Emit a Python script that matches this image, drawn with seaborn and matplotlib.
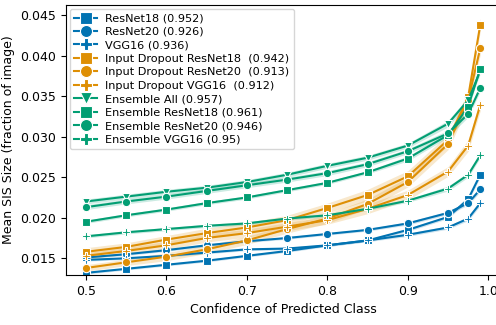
import numpy as np
import pandas as pd
import matplotlib
matplotlib.use("Agg")
import matplotlib.pyplot as plt
import seaborn as sns

# Confidence bins on the x axis
confidence = [0.5, 0.55, 0.6, 0.65, 0.7, 0.75, 0.8, 0.85, 0.9, 0.95, 0.975, 0.99]

# Mean SIS size per model at each confidence bin
resnet18 = [0.0132, 0.0137, 0.0142, 0.0147, 0.0153, 0.0159, 0.0166, 0.0172, 0.0185, 0.0201, 0.0223, 0.0253]
resnet20 = [0.0151, 0.0155, 0.0160, 0.0166, 0.0171, 0.0175, 0.0180, 0.0185, 0.0193, 0.0206, 0.0218, 0.0235]
vgg16 = [0.0148, 0.0150, 0.0153, 0.0157, 0.0161, 0.0162, 0.0166, 0.0172, 0.0179, 0.0188, 0.0199, 0.0218]
id_resnet18 = [0.0158, 0.0164, 0.0173, 0.0181, 0.0188, 0.0197, 0.0212, 0.0228, 0.0251, 0.0296, 0.0349, 0.0438]
id_resnet20 = [0.0138, 0.0145, 0.0152, 0.0161, 0.0172, 0.0186, 0.0199, 0.0217, 0.0244, 0.0291, 0.0345, 0.0409]
id_vgg16 = [0.0153, 0.0159, 0.0166, 0.0175, 0.0181, 0.0189, 0.0197, 0.0211, 0.0228, 0.0257, 0.0289, 0.0339]
ens_all = [0.0220, 0.0226, 0.0232, 0.0237, 0.0244, 0.0253, 0.0264, 0.0274, 0.0289, 0.0316, 0.0345, 0.0381]
ens_resnet18 = [0.0195, 0.0203, 0.0210, 0.0218, 0.0225, 0.0234, 0.0243, 0.0256, 0.0273, 0.0302, 0.0337, 0.0384]
ens_resnet20 = [0.0213, 0.0220, 0.0226, 0.0233, 0.0240, 0.0247, 0.0255, 0.0266, 0.0282, 0.0304, 0.0328, 0.0360]
ens_vgg16 = [0.0177, 0.0182, 0.0186, 0.0190, 0.0193, 0.0199, 0.0203, 0.0211, 0.0221, 0.0236, 0.0253, 0.0277]

# Half-width of the confidence band for each series
hw_resnet18 = [0.00015, 0.00015, 0.00015, 0.00015, 0.00015, 0.00015, 0.00015, 0.00015, 0.0002, 0.0002, 0.00025, 0.0003]
hw_resnet20 = [0.00015, 0.00015, 0.00015, 0.00015, 0.00015, 0.00015, 0.00015, 0.00015, 0.0002, 0.0002, 0.00025, 0.0003]
hw_vgg16 = [0.00015, 0.00015, 0.00015, 0.00015, 0.00015, 0.00015, 0.00015, 0.00015, 0.0002, 0.0002, 0.00025, 0.0003]
hw_id_resnet18 = [0.0005, 0.0005, 0.0005, 0.0006, 0.0006, 0.0006, 0.0006, 0.0007, 0.0007, 0.0007, 0.0008, 0.0008]
hw_id_resnet20 = [0.0004, 0.0004, 0.0005, 0.0005, 0.0005, 0.0005, 0.0006, 0.0006, 0.0006, 0.0007, 0.0007, 0.0008]
hw_id_vgg16 = [0.0004, 0.0004, 0.0005, 0.0005, 0.0005, 0.0005, 0.0005, 0.0006, 0.0006, 0.0006, 0.0007, 0.0007]
hw_ens_all = [0.0003, 0.0003, 0.0003, 0.0003, 0.0003, 0.0003, 0.0003, 0.0003, 0.0003, 0.0004, 0.0004, 0.0004]
hw_ens_resnet18 = [0.0002, 0.0002, 0.0002, 0.0002, 0.0002, 0.0002, 0.0002, 0.0002, 0.0003, 0.0003, 0.0003, 0.0003]
hw_ens_resnet20 = [0.0003, 0.0003, 0.0003, 0.0003, 0.0003, 0.0003, 0.0003, 0.0003, 0.0003, 0.0004, 0.0004, 0.0004]
hw_ens_vgg16 = [0.0002, 0.0002, 0.0002, 0.0002, 0.0002, 0.0002, 0.0002, 0.0002, 0.0002, 0.0003, 0.0003, 0.0003]

labels = [
    "ResNet18 (0.952)",
    "ResNet20 (0.926)",
    "VGG16 (0.936)",
    "Input Dropout ResNet18  (0.942)",
    "Input Dropout ResNet20  (0.913)",
    "Input Dropout VGG16  (0.912)",
    "Ensemble All (0.957)",
    "Ensemble ResNet18 (0.961)",
    "Ensemble ResNet20 (0.946)",
    "Ensemble VGG16 (0.95)",
]
series = [resnet18, resnet20, vgg16, id_resnet18, id_resnet20, id_vgg16,
          ens_all, ens_resnet18, ens_resnet20, ens_vgg16]
half_widths = [hw_resnet18, hw_resnet20, hw_vgg16, hw_id_resnet18, hw_id_resnet20, hw_id_vgg16,
               hw_ens_all, hw_ens_resnet18, hw_ens_resnet20, hw_ens_vgg16]

cb = sns.color_palette("colorblind")
colors = [cb[0]] * 3 + [cb[1]] * 3 + [cb[2]] * 4
markers = ["s", "o", "P", "s", "o", "P", "v", "s", "o", "P"]

df = pd.DataFrame({
    "conf": np.tile(confidence, len(labels)),
    "size": np.concatenate(series),
    "model": np.repeat(labels, len(confidence)),
})

plt.rcParams["font.family"] = ["DejaVu Sans"]
fig = plt.figure(figsize=(4.96, 3.25), dpi=100)
ax = fig.add_axes([66 / 496, 50 / 325, 434 / 496, 270 / 325])

# confidence bands
for lab, vals, hw, col in zip(labels, series, half_widths, colors):
    v = np.array(vals)
    h = np.array(hw)
    ax.fill_between(confidence, v - h, v + h, color=col, alpha=0.2, linewidth=0, zorder=1)

sns.lineplot(
    data=df, x="conf", y="size", hue="model", style="model",
    hue_order=labels, style_order=labels,
    palette=dict(zip(labels, colors)),
    markers=dict(zip(labels, markers)), dashes=False,
    markersize=6, markeredgecolor="white", markeredgewidth=0.8,
    linewidth=1.5, ax=ax, zorder=2,
)

ax.set_xlim(0.4755, 1.0145)
ax.set_ylim(0.01294, 0.04623)
ax.set_xticks([0.5, 0.6, 0.7, 0.8, 0.9, 1.0])
ax.set_xticklabels(["0.5", "0.6", "0.7", "0.8", "0.9", "1.0"])
ax.set_yticks([0.015, 0.020, 0.025, 0.030, 0.035, 0.040, 0.045])
ax.set_yticklabels(["0.015", "0.020", "0.025", "0.030", "0.035", "0.040", "0.045"])
ax.tick_params(labelsize=9)
ax.set_xlabel("Confidence of Predicted Class", fontsize=9)
ax.set_ylabel("Mean SIS Size (fraction of image)", fontsize=9)

leg = ax.legend(loc="upper left", fontsize=8.1, frameon=True, markerscale=1.45,
                handlelength=2.0, handletextpad=0.75, labelspacing=0.31,
                borderpad=0.4, borderaxespad=0.35)

fig.savefig("out.png", dpi=100)
